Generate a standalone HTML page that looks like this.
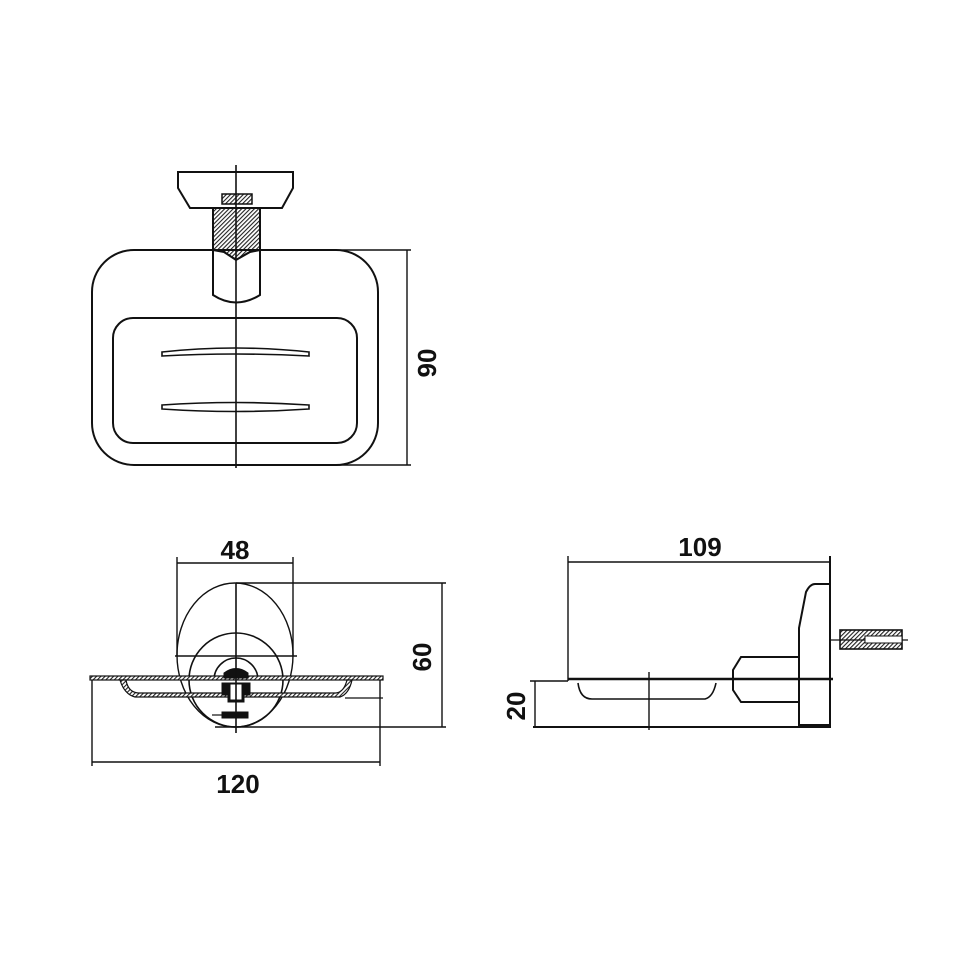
<!DOCTYPE html>
<html><head><meta charset="utf-8"><style>html,body{margin:0;padding:0;background:#fff}svg{display:block}text{font-family:"Liberation Sans",sans-serif;font-weight:bold;font-size:26px;fill:#111}</style></head><body>
<svg width="960" height="960" viewBox="0 0 960 960" xmlns="http://www.w3.org/2000/svg">
<defs><pattern id="h" width="3" height="3" patternUnits="userSpaceOnUse" patternTransform="rotate(45)"><rect width="3" height="3" fill="#fff"/><line x1="0" y1="0" x2="0" y2="3" stroke="#222" stroke-width="2.2"/></pattern></defs>
<g fill="none" stroke="#111" stroke-width="2">
<path d="M178,172 V188 L190,208 H282 L293,188 V172 Z"/>
<rect x="222" y="194" width="30" height="10" fill="url(#h)" stroke-width="1.5"/>
<path d="M213,208 H260 V250 L250,252 L236,260 L224,252 L213,250 Z" fill="url(#h)"/>
<path d="M213,250 L224,252 L236,260 L250,252 L260,250 V295 Q236,310 213,295 Z" fill="#fff"/>
<rect x="92" y="250" width="286" height="215" rx="42"/>
<rect x="113" y="318" width="244" height="125" rx="20"/>
<path d="M162,352 Q235,344 309,352 L309,356 Q235,352 162,356 Z" stroke-width="1.6"/>
<path d="M162,405 Q235,400 309,405 L309,409 Q235,414 162,409 Z" stroke-width="1.6"/>
<line x1="236" y1="165" x2="236" y2="468" stroke-width="1.6"/>
<g stroke-width="1.4"><line x1="336" y1="250" x2="411" y2="250"/><line x1="336" y1="465" x2="411" y2="465"/><line x1="407" y1="250" x2="407" y2="465"/></g>
<ellipse cx="235" cy="655" rx="58" ry="72" stroke-width="1.4"/>
<circle cx="236" cy="680" r="47" stroke-width="1.6"/>
<path d="M214,680 A22,22 0 0 1 258,680" stroke-width="1.6"/>
<line x1="175" y1="656" x2="297" y2="656" stroke-width="1.6"/>
<rect x="90" y="676" width="293" height="4" fill="url(#h)" stroke-width="1.2"/>
<path d="M120,680 Q124,694 135,697 H340 Q349,694 352,680 L347,680 Q344,692 336,693 H138 Q128,692 126,680 Z" fill="url(#h)" stroke-width="1.2"/>
<path d="M224,673 Q236,664 248,673 L248,678 H224 Z" fill="#111" stroke-width="1"/>
<path d="M222,683 H250 V695 H244 V702 H228 V695 H222 Z" fill="#111" stroke-width="1"/>
<rect x="230" y="684" width="12" height="16" fill="#fff" stroke-width="1"/>
<rect x="222" y="712" width="26" height="6" fill="#111" stroke-width="1"/>
<line x1="212" y1="715" x2="222" y2="715" stroke-width="1.2"/>
<line x1="236" y1="583" x2="236" y2="733" stroke-width="1.6"/>
<line x1="345" y1="698" x2="383" y2="698" stroke-width="1.2"/>
<g stroke-width="1.4">
<line x1="177" y1="557" x2="177" y2="656"/><line x1="293" y1="557" x2="293" y2="656"/><line x1="177" y1="563" x2="293" y2="563"/>
<line x1="236" y1="583" x2="446" y2="583"/><line x1="215" y1="727" x2="446" y2="727"/><line x1="442" y1="583" x2="442" y2="727"/>
<line x1="92" y1="680" x2="92" y2="766"/><line x1="380" y1="680" x2="380" y2="766"/><line x1="92" y1="762" x2="380" y2="762"/>
</g>
<g stroke-width="1.4">
<line x1="568" y1="556" x2="568" y2="681"/><line x1="568" y1="562" x2="830" y2="562"/>
<line x1="530" y1="681" x2="568" y2="681"/><line x1="535" y1="681" x2="535" y2="727"/>
<line x1="649" y1="672" x2="649" y2="730"/>
</g>
<line x1="830" y1="556" x2="830" y2="728"/>
<path d="M830,584 H815 Q810,584 806,592 L799,628 V725 H830" />
<path d="M799,657 H741 L733,670 V690 L741,702 H799" />
<line x1="568" y1="679" x2="833" y2="679" stroke-width="2.5"/>
<line x1="533" y1="727" x2="830" y2="727"/>
<path d="M578,683 Q580,699 592,699 H705 Q713,697 716,683" stroke-width="1.6"/>
<rect x="840" y="630" width="62" height="19" fill="url(#h)" stroke-width="1.6"/>
<line x1="830" y1="640" x2="908" y2="640" stroke-width="1.2"/>
<rect x="865" y="636" width="37" height="7" fill="#fff" stroke-width="1"/>
</g>
<text x="235" y="559" text-anchor="middle">48</text>
<text x="238" y="793" text-anchor="middle">120</text>
<text x="700" y="556" text-anchor="middle">109</text>
<text transform="translate(436,363) rotate(-90)" text-anchor="middle">90</text>
<text transform="translate(431,657) rotate(-90)" text-anchor="middle">60</text>
<text transform="translate(525,706) rotate(-90)" text-anchor="middle">20</text>
</svg>
</body></html>
